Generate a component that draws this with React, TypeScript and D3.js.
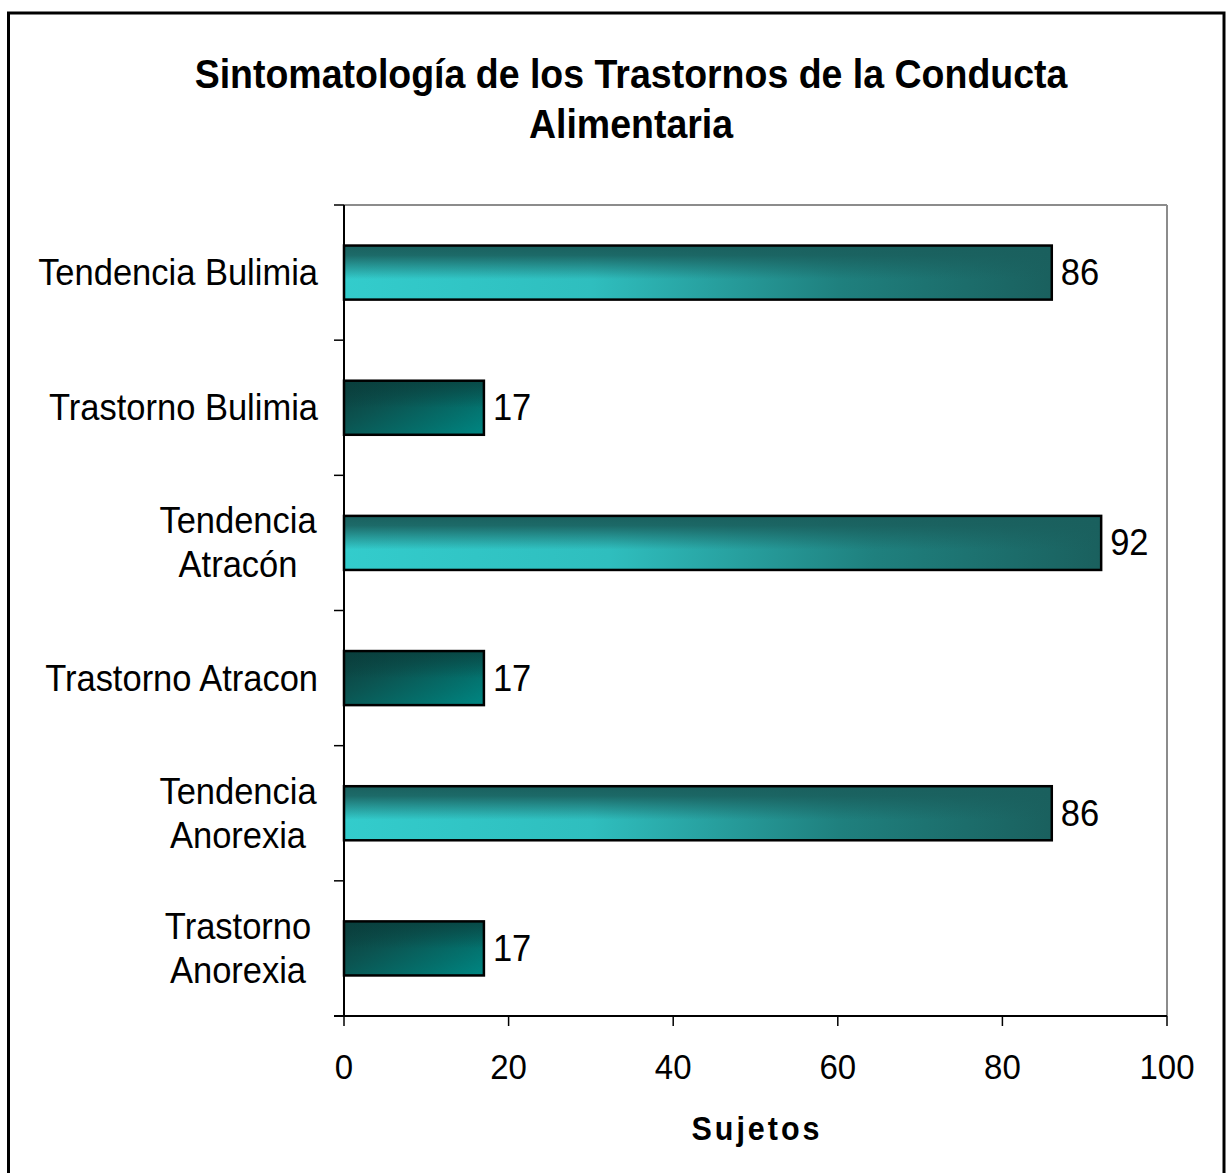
import React from "react";
import * as d3 from "d3";

const titleLines = ["Sintomatología de los Trastornos de la Conducta", "Alimentaria"];
const categories = [
  "Tendencia Bulimia",
  "Trastorno Bulimia",
  "Tendencia Atracón",
  "Trastorno Atracon",
  "Tendencia Anorexia",
  "Trastorno Anorexia",
];
const categoryLines = [
  ["Tendencia Bulimia"],
  ["Trastorno Bulimia"],
  ["Tendencia", "Atracón"],
  ["Trastorno Atracon"],
  ["Tendencia", "Anorexia"],
  ["Trastorno", "Anorexia"],
];
const values = [86, 17, 92, 17, 86, 17];
const xTicks = [0, 20, 40, 60, 80, 100];
const xTitle = "Sujetos";

const W = 1230;
const H = 1173;
const M = { left: 344, right: 1167, top: 205, bottom: 1016 };
const FONT = "'Liberation Sans', Arial, Helvetica, sans-serif";
const SY = 1.08;

function T({
  x,
  y,
  children,
  anchor = "start",
  size,
  bold = false,
  spacing = 0,
}: {
  x: number;
  y: number;
  children: React.ReactNode;
  anchor?: string;
  size: number;
  bold?: boolean;
  spacing?: number;
}) {
  return (
    <text
      transform={`translate(${x},${y}) scale(1,${SY})`}
      x={0}
      y={0}
      textAnchor={anchor as any}
      fontFamily={FONT}
      fontWeight={bold ? "bold" : "normal"}
      fontSize={size}
      letterSpacing={spacing}
      fill="#000"
    >
      {children}
    </text>
  );
}

export default function App() {
  const x = d3.scaleLinear().domain([0, 100]).range([M.left, M.right]);
  const y = d3
    .scaleBand<string>()
    .domain(categories)
    .range([M.top, M.bottom])
    .paddingInner(0.6)
    .paddingOuter(0.3);
  const step = y.step();
  const boundaries = d3.range(categories.length + 1).map((i) => M.top + i * step);

  return (
    <div style={{ position: "absolute", left: 0, top: 0 }}>
      <svg width={W} height={H} style={{ display: "block", background: "#fff" }}>
        <defs>
          <linearGradient id="tendBase" x1="0" y1="0" x2="1" y2="0">
            <stop offset="0" stopColor="#33cccc" />
            <stop offset="0.35" stopColor="#2fbebe" />
            <stop offset="0.7" stopColor="#1f807e" />
            <stop offset="1" stopColor="#1a605e" />
          </linearGradient>
          <linearGradient id="tendTop" x1="0" y1="0" x2="0" y2="1">
            <stop offset="0" stopColor="#1a605e" stopOpacity="1" />
            <stop offset="0.18" stopColor="#1a605e" stopOpacity="0.9" />
            <stop offset="0.62" stopColor="#1a605e" stopOpacity="0" />
            <stop offset="1" stopColor="#1a605e" stopOpacity="0" />
          </linearGradient>
          <linearGradient id="trasBase" x1="0" y1="0.1" x2="1" y2="0.9">
            <stop offset="0" stopColor="#0c3f3d" />
            <stop offset="0.35" stopColor="#0b5451" />
            <stop offset="0.75" stopColor="#04706c" />
            <stop offset="1" stopColor="#00837f" />
          </linearGradient>
          <linearGradient id="trasTop" x1="0" y1="0" x2="0" y2="1">
            <stop offset="0" stopColor="#083f3d" stopOpacity="0.7" />
            <stop offset="0.5" stopColor="#083f3d" stopOpacity="0" />
            <stop offset="1" stopColor="#083f3d" stopOpacity="0" />
          </linearGradient>
        </defs>

        {/* outer frame */}
        <rect x={8.5} y={13} width={1215.5} height={1180} fill="#fff" stroke="#000" strokeWidth={3} />

        {/* title */}
        {titleLines.map((t, i) => (
          <T key={i} x={631} y={88 + i * 50} anchor="middle" size={37.5} bold>
            {t}
          </T>
        ))}

        {/* plot area borders */}
        <line x1={M.left} x2={M.right} y1={M.top} y2={M.top} stroke="#8c8c8c" strokeWidth={2} />
        <line x1={M.right} x2={M.right} y1={M.top} y2={M.bottom} stroke="#8c8c8c" strokeWidth={2} />

        {/* bars */}
        {categories.map((c, i) => {
          const isTend = c.startsWith("Tendencia");
          const by = y(c)!;
          const bw = x(values[i]) - x(0);
          const bh = y.bandwidth();
          return (
            <g key={c}>
              <rect x={x(0)} y={by} width={bw} height={bh} fill={isTend ? "url(#tendBase)" : "url(#trasBase)"} />
              <rect x={x(0)} y={by} width={bw} height={bh} fill={isTend ? "url(#tendTop)" : "url(#trasTop)"} />
              <rect x={x(0)} y={by} width={bw} height={bh} fill="none" stroke="#000" strokeWidth={2.5} />
              <T x={x(values[i]) + 9} y={by + bh / 2 + 12.5} size={34.5}>
                {values[i]}
              </T>
            </g>
          );
        })}

        {/* y axis */}
        <line x1={M.left} x2={M.left} y1={M.top} y2={M.bottom} stroke="#000" strokeWidth={2} />
        {boundaries.map((b, i) => (
          <line key={i} x1={M.left - 10} x2={M.left} y1={b} y2={b} stroke="#000" strokeWidth={1.5} />
        ))}
        {categories.map((c, i) => {
          const cy = y(c)! + y.bandwidth() / 2;
          const lines = categoryLines[i];
          const lh = 44;
          const first = cy + 12.5 - ((lines.length - 1) * lh) / 2;
          const anchorX = lines.length > 1 ? 238 : 318;
          return (
            <g key={c}>
              {lines.map((l, j) => (
                <T
                  key={j}
                  x={anchorX}
                  y={first + j * lh}
                  size={34.5}
                  anchor={lines.length > 1 ? "middle" : "end"}
                >
                  {l}
                </T>
              ))}
            </g>
          );
        })}

        {/* x axis */}
        <line x1={M.left - 10} x2={M.right} y1={M.bottom} y2={M.bottom} stroke="#000" strokeWidth={2} />
        {xTicks.map((t) => (
          <g key={t}>
            <line x1={x(t)} x2={x(t)} y1={M.bottom} y2={M.bottom + 10} stroke="#000" strokeWidth={1.5} />
            <T x={x(t)} y={1079} anchor="middle" size={33}>
              {t}
            </T>
          </g>
        ))}
        <T x={757} y={1140} anchor="middle" size={30.5} bold spacing={3}>
          {xTitle}
        </T>
      </svg>
    </div>
  );
}
